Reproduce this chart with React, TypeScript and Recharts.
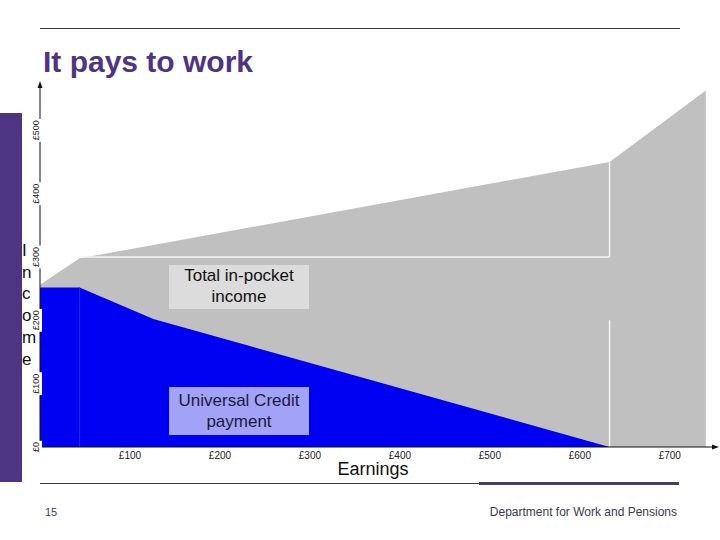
import React from 'react';
import { AreaChart, Area, XAxis, YAxis, ReferenceLine } from 'recharts';

// weekly earnings (£) where the lines change direction
const earnings = [0, 44, 126, 633, 740];
// total in-pocket income (£ per week)
const totalIncome = [256, 298, 319, 450, 563];
// universal credit payment (£ per week)
const ucPayment = [252, 252, 202, 0, 0];

const xTicks = [100, 200, 300, 400, 500, 600, 700];
const yTicks = [0, 100, 200, 300, 400, 500];
const axisLetters = ['I', 'n', 'c', 'o', 'm', 'e'];

const chartData = earnings.map((e, i) => ({
  earnings: e,
  total: totalIncome[i],
  uc: ucPayment[i],
}));

const PURPLE = '#4e3584';
const SANS = '"Liberation Sans", Arial, sans-serif';

const XTick = (props: any) => {
  const { x, y, payload } = props;
  return (
    <text x={x} y={y + 9} textAnchor="middle" dominantBaseline="middle" fontSize={10} fill="#222" fontFamily={SANS}>
      £{payload.value}
    </text>
  );
};

const YTick = (props: any) => {
  const { x, y, payload } = props;
  const label = `£${payload.value}`;
  const len = label.length * 5.2;
  return (
    <g transform={`translate(${x - 3},${y}) rotate(-90)`}>
      <rect x={-len / 2 - 1} y={-5} width={len + 2} height={10} fill="#fff" />
      <text x={0} y={0} textAnchor="middle" dominantBaseline="middle" fontSize={9} fill="#222" fontFamily={SANS}>
        {label}
      </text>
    </g>
  );
};

const App: React.FC = () => {
  return (
    <div style={{ position: 'absolute', left: 0, top: 0, width: 720, height: 540, background: '#fff', fontFamily: SANS, overflow: 'hidden' }}>
      {/* slide frame */}
      <div style={{ position: 'absolute', left: 40, top: 28, width: 640, height: 1, background: '#3d3550' }} />
      <div style={{ position: 'absolute', left: 43, top: 45, fontSize: 30, fontWeight: 700, color: PURPLE, lineHeight: '34px' }}>
        It pays to work
      </div>
      <div style={{ position: 'absolute', left: 0, top: 113, width: 22, height: 369, background: PURPLE }} />

      <AreaChart width={720} height={540} data={chartData} margin={{ top: 86, right: 7, bottom: 73, left: 30 }}>
        <XAxis
          dataKey="earnings"
          type="number"
          domain={[0, 748]}
          allowDataOverflow
          ticks={xTicks}
          height={20}
          tickLine={false}
          tickSize={0}
          tickMargin={0}
          axisLine={{ stroke: '#111', strokeWidth: 1 }}
          tick={<XTick />}
        />
        <YAxis
          type="number"
          domain={[0, 570]}
          allowDataOverflow
          ticks={yTicks}
          width={10}
          tickLine={false}
          tickSize={0}
          tickMargin={0}
          axisLine={{ stroke: '#111', strokeWidth: 1 }}
          tick={<YTick />}
        />
        <Area
          type="linear"
          dataKey="total"
          stroke="none"
          fill="#c0c0c0"
          fillOpacity={1}
          isAnimationActive={false}
        />
        <Area
          type="linear"
          dataKey="uc"
          stroke="none"
          fill="#0000f2"
          fillOpacity={1}
          isAnimationActive={false}
        />
        <ReferenceLine segment={[{ x: 44, y: 300 }, { x: 633, y: 300 }]} stroke="#f4f4f4" strokeWidth={1.5} />
        <ReferenceLine segment={[{ x: 633, y: 300 }, { x: 633, y: 450 }]} stroke="#f4f4f4" strokeWidth={1.5} />
        <ReferenceLine segment={[{ x: 633, y: 0 }, { x: 633, y: 200 }]} stroke="#f4f4f4" strokeWidth={1.5} />
        <ReferenceLine segment={[{ x: 44, y: 0 }, { x: 44, y: 252 }]} stroke="#2a2aff" strokeWidth={1} />
      </AreaChart>

      {/* axis arrowheads */}
      <svg style={{ position: 'absolute', left: 0, top: 0, pointerEvents: 'none' }} width={720} height={540}>
        <polygon points="40,81 37.5,88 42.5,88" fill="#111" />
        <polygon points="719,447 712,444.5 712,449.5" fill="#111" />
      </svg>

      {/* series labels */}
      <div style={{ position: 'absolute', left: 169, top: 265, width: 140, height: 44, background: '#dcdcdc', color: '#111', fontSize: 17, lineHeight: '21px', textAlign: 'center' }}>
        Total in-pocket<br />income
      </div>
      <div style={{ position: 'absolute', left: 169, top: 387, width: 140, height: 48, background: '#a2a2f6', color: '#1a1a40', fontSize: 17, lineHeight: '21px', textAlign: 'center', paddingTop: 3, boxSizing: 'border-box' }}>
        Universal Credit<br />payment
      </div>

      {/* axis titles */}
      <div style={{ position: 'absolute', left: 22, top: 240, width: 14, fontSize: 17, lineHeight: '21.7px', color: '#111' }}>
        {axisLetters.map((l, i) => (
          <div key={i}>{l}</div>
        ))}
      </div>
      <div style={{ position: 'absolute', left: 373, top: 458, transform: 'translateX(-50%)', fontSize: 18, lineHeight: '22px', color: '#111' }}>
        Earnings
      </div>

      {/* footer */}
      <div style={{ position: 'absolute', left: 40, top: 483, width: 440, height: 1, background: '#3d3550' }} />
      <div style={{ position: 'absolute', left: 479, top: 482, width: 200, height: 3, background: '#4a3a66' }} />
      <div style={{ position: 'absolute', left: 45, top: 505, fontSize: 11, lineHeight: '14px', color: '#444' }}>15</div>
      <div style={{ position: 'absolute', right: 43, top: 505, fontSize: 12, lineHeight: '14px', color: '#3a3a4a' }}>
        Department for Work and Pensions
      </div>
    </div>
  );
};

export default App;
